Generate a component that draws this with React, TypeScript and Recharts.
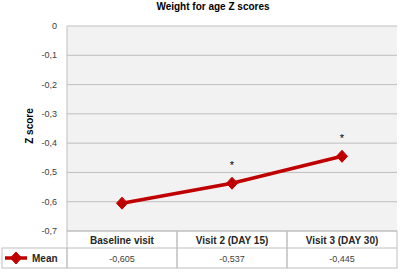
import React from 'react';
import { LineChart, Line, XAxis, YAxis, CartesianGrid, LabelList } from 'recharts';

const categories = ['Baseline visit', 'Visit 2 (DAY 15)', 'Visit 3 (DAY 30)'];
const meanValues = [-0.605, -0.537, -0.445];
const valueLabels = ['-0,605', '-0,537', '-0,445'];
const significance = ['', '*', '*'];
const yTicks = [0, -0.1, -0.2, -0.3, -0.4, -0.5, -0.6, -0.7];
const seriesName = 'Mean';
const chartTitle = 'Weight for age Z scores';
const yAxisTitle = 'Z score';

const data = categories.map((c, i) => ({
  visit: c,
  mean: meanValues[i],
  label: valueLabels[i],
  sig: significance[i],
}));

const W = 400;
const H = 272;
const PLOT_LEFT = 67;
const PLOT_RIGHT = 397;
const PLOT_TOP = 26;
const PLOT_BOTTOM = 231;
const ROW1 = 248;
const ROW2 = 268;
const TABLE_LEFT = 2;
const BORDER = '#bfbfbf';
const RED = '#c00000';
const FONT = '"Liberation Sans", Arial, sans-serif';
const CELL_W = (PLOT_RIGHT - PLOT_LEFT) / categories.length;

const fmt = (v: number) => (v === 0 ? '0' : String(Number(v.toFixed(1))).replace('.', ','));

const Diamond = (props: any) => {
  const { cx, cy } = props;
  if (cx == null || cy == null) return null;
  const a = 5.5;
  const b = 6;
  return (
    <polygon
      points={`${cx},${cy - b} ${cx + a},${cy} ${cx},${cy + b} ${cx - a},${cy}`}
      fill={RED}
      stroke={RED}
      strokeWidth={1}
    />
  );
};

const XTick = (props: any) => {
  const { x, payload } = props;
  const idx = categories.indexOf(payload.value);
  const left = x - CELL_W / 2;
  return (
    <g>
      <rect x={left} y={PLOT_BOTTOM} width={CELL_W} height={ROW2 - PLOT_BOTTOM} fill="none" stroke={BORDER} strokeWidth={1} />
      <line x1={left} y1={ROW1} x2={left + CELL_W} y2={ROW1} stroke={BORDER} strokeWidth={1} />
      <text
        x={x}
        y={(PLOT_BOTTOM + ROW1) / 2 + 0.5}
        textAnchor="middle"
        dominantBaseline="central"
        fontFamily={FONT}
        fontWeight="bold"
        fontSize={10}
        fill="#262626"
      >
        {payload.value}
      </text>
      <text
        x={x}
        y={(ROW1 + ROW2) / 2 + 0.5}
        textAnchor="middle"
        dominantBaseline="central"
        fontFamily={FONT}
        fontSize={9}
        fill="#404040"
      >
        {idx >= 0 ? data[idx].label : ''}
      </text>
    </g>
  );
};

const YTick = (props: any) => {
  const { y, payload } = props;
  return (
    <text
      x={PLOT_LEFT - 10}
      y={y}
      textAnchor="end"
      dominantBaseline="central"
      fontFamily={FONT}
      fontSize={9}
      fill="#404040"
    >
      {fmt(payload.value)}
    </text>
  );
};

export default function App() {
  return (
    <div style={{ position: 'absolute', left: 0, top: 0, width: W, height: H, background: '#fff' }}>
      <LineChart
        width={W}
        height={H}
        data={data}
        margin={{ top: PLOT_TOP, right: W - PLOT_RIGHT, bottom: 0, left: 0 }}
      >
        <CartesianGrid vertical={false} stroke={BORDER} fill="#f2f2f2" horizontalValues={yTicks} />
        <XAxis
          dataKey="visit"
          height={H - PLOT_BOTTOM}
          axisLine={false}
          tickLine={false}
          interval={0}
          padding={{ left: CELL_W / 2, right: CELL_W / 2 }}
          tick={<XTick />}
        />
        <YAxis
          type="number"
          domain={[-0.7, 0]}
          ticks={yTicks}
          width={PLOT_LEFT}
          axisLine={{ stroke: BORDER }}
          tickLine={false}
          tick={<YTick />}
          interval={0}
        />
        <Line
          type="linear"
          dataKey="mean"
          name={seriesName}
          stroke={RED}
          strokeWidth={3.5}
          dot={<Diamond />}
          activeDot={false}
          isAnimationActive={false}
        >
          <LabelList dataKey="sig" position="top" offset={14} fill="#000" fontSize={11} fontFamily={FONT} />
        </Line>
      </LineChart>
      <svg
        width={W}
        height={H}
        style={{ position: 'absolute', left: 0, top: 0, pointerEvents: 'none' }}
      >
        <text
          x={213}
          y={6}
          textAnchor="middle"
          dominantBaseline="central"
          fontFamily={FONT}
          fontWeight="bold"
          fontSize={10}
          fill="#000"
        >
          {chartTitle}
        </text>
        <text
          x={29}
          y={126}
          transform="rotate(-90 29 126)"
          textAnchor="middle"
          dominantBaseline="central"
          fontFamily={FONT}
          fontWeight="bold"
          fontSize={10}
          fill="#000"
        >
          {yAxisTitle}
        </text>
        <rect x={TABLE_LEFT} y={ROW1} width={PLOT_LEFT - TABLE_LEFT} height={ROW2 - ROW1} fill="none" stroke={BORDER} />
        <line x1={5} y1={258} x2={27} y2={258} stroke={RED} strokeWidth={3.5} />
        <Diamond cx={16} cy={258} />
        <text
          x={32}
          y={258.5}
          dominantBaseline="central"
          fontFamily={FONT}
          fontWeight="bold"
          fontSize={10}
          fill="#262626"
        >
          {seriesName}
        </text>
      </svg>
    </div>
  );
}
